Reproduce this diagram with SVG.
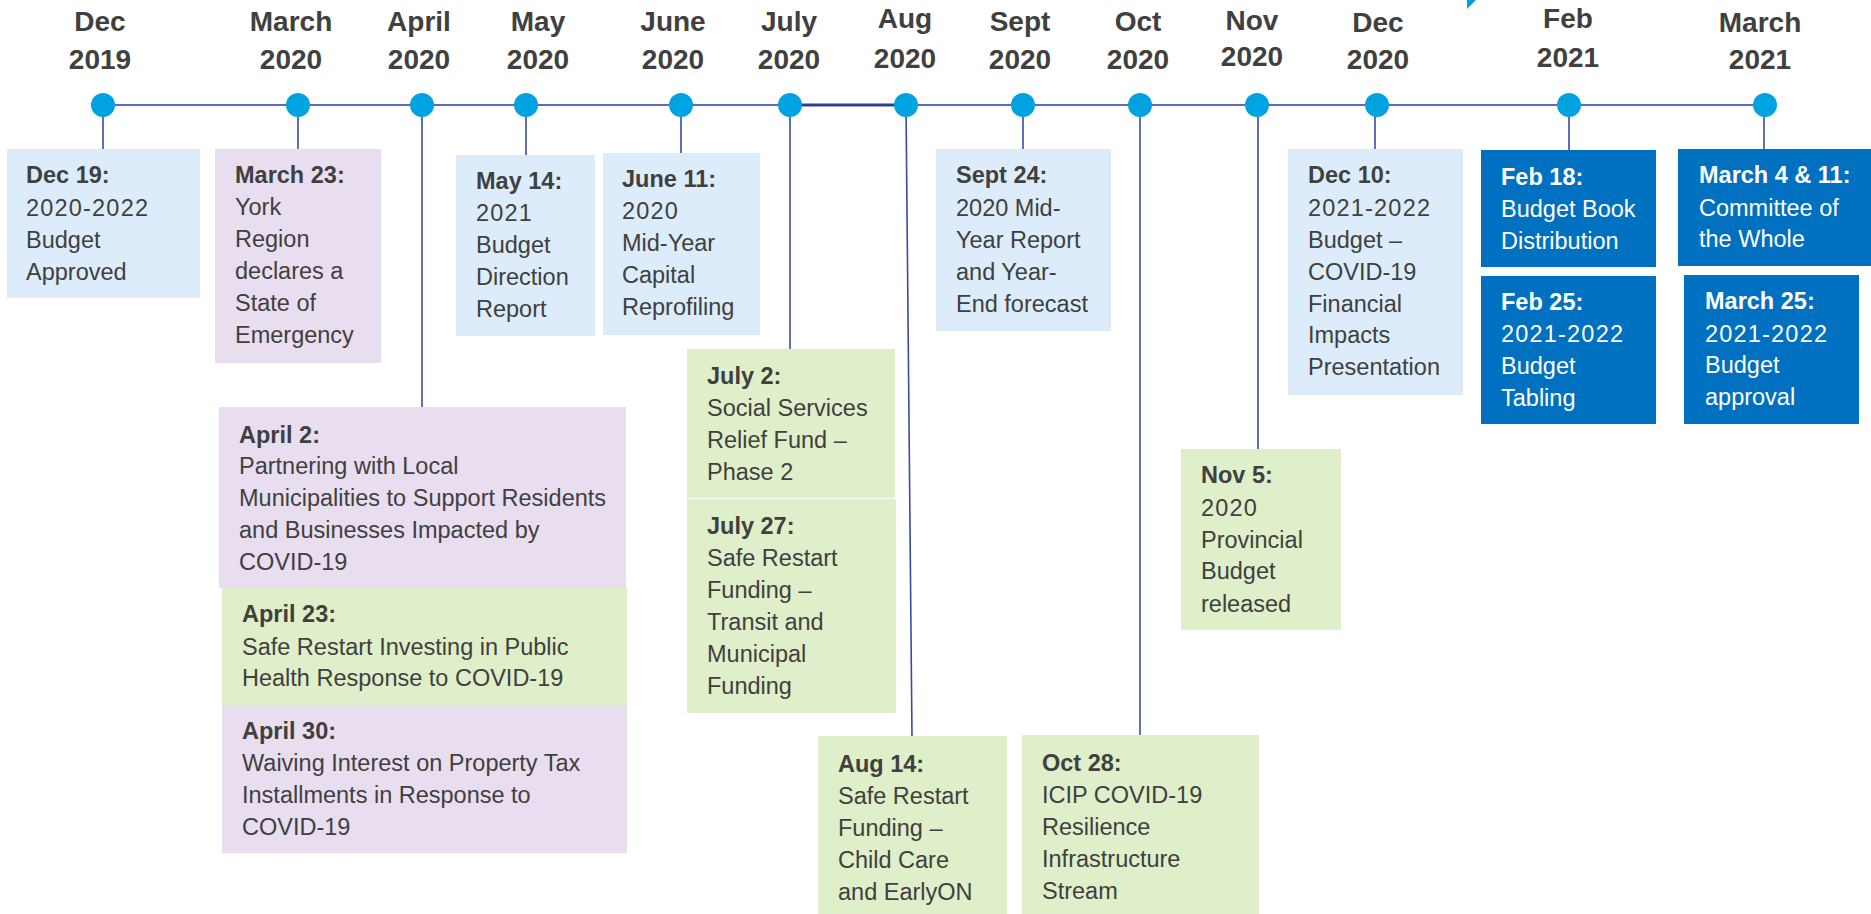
<svg xmlns="http://www.w3.org/2000/svg" width="1871" height="914" viewBox="0 0 1871 914">
<style>
.hd{font-family:"Liberation Sans",Arial,sans-serif;font-weight:bold;font-size:28px;fill:#404040;text-anchor:middle}
.tx{font-family:"Liberation Sans",Arial,sans-serif;font-size:23.5px;fill:#404040}
.tx .b{font-weight:bold}
.tx .n{letter-spacing:1.2px}
.wt{fill:#ffffff}
.lb{fill:#ddecfa}
.lv{fill:#e8def0}
.gr{fill:#dfefc9}
.db{fill:#0070c0}
.dot{fill:#00a3e0}
.con{stroke:#3b4aa3;stroke-width:1.6;fill:none}
</style>
<rect width="1871" height="914" fill="#ffffff"/>
<polygon points="1467,0 1476,0 1467,9" fill="#00a0e0"/>

<g id="headers">
<text class="hd" x="100" y="31">Dec<tspan x="100" y="69">2019</tspan></text>
<text class="hd" x="291" y="31">March<tspan x="291" y="69">2020</tspan></text>
<text class="hd" x="419" y="31">April<tspan x="419" y="69">2020</tspan></text>
<text class="hd" x="538" y="31">May<tspan x="538" y="69">2020</tspan></text>
<text class="hd" x="673" y="31">June<tspan x="673" y="69">2020</tspan></text>
<text class="hd" x="789" y="31">July<tspan x="789" y="69">2020</tspan></text>
<text class="hd" x="905" y="28">Aug<tspan x="905" y="68">2020</tspan></text>
<text class="hd" x="1020" y="31">Sept<tspan x="1020" y="69">2020</tspan></text>
<text class="hd" x="1138" y="31">Oct<tspan x="1138" y="69">2020</tspan></text>
<text class="hd" x="1252" y="30">Nov<tspan x="1252" y="66">2020</tspan></text>
<text class="hd" x="1378" y="32">Dec<tspan x="1378" y="69">2020</tspan></text>
<text class="hd" x="1568" y="28">Feb<tspan x="1568" y="67">2021</tspan></text>
<text class="hd" x="1760" y="32">March<tspan x="1760" y="69">2021</tspan></text>
</g>

<g id="connectors">
<line x1="103" y1="105" x2="1765" y2="105" stroke="#5b6bc0" stroke-width="2"/>
<line x1="790" y1="105" x2="906" y2="105" stroke="#2f3d92" stroke-width="3"/>
<line class="con" x1="103" y1="105" x2="103" y2="149"/>
<line class="con" x1="298" y1="105" x2="298" y2="149"/>
<line class="con" x1="422" y1="105" x2="422" y2="407"/>
<line class="con" x1="526" y1="105" x2="526" y2="155"/>
<line class="con" x1="681" y1="105" x2="681" y2="153"/>
<line class="con" x1="790" y1="105" x2="790" y2="349"/>
<line class="con" x1="906" y1="105" x2="912" y2="736"/>
<line class="con" x1="1023" y1="105" x2="1023" y2="149"/>
<line class="con" x1="1140" y1="105" x2="1140" y2="735"/>
<line class="con" x1="1258" y1="105" x2="1258" y2="449"/>
<line class="con" x1="1375" y1="105" x2="1375" y2="149"/>
<line class="con" x1="1569" y1="105" x2="1569" y2="150"/>
<line class="con" x1="1764" y1="105" x2="1764" y2="149"/>
</g>

<g id="dots">
<circle class="dot" cx="103" cy="105" r="12"/>
<circle class="dot" cx="298" cy="105" r="12"/>
<circle class="dot" cx="422" cy="105" r="12"/>
<circle class="dot" cx="526" cy="105" r="12"/>
<circle class="dot" cx="681" cy="105" r="12"/>
<circle class="dot" cx="790" cy="105" r="12"/>
<circle class="dot" cx="906" cy="105" r="12"/>
<circle class="dot" cx="1023" cy="105" r="12"/>
<circle class="dot" cx="1140" cy="105" r="12"/>
<circle class="dot" cx="1257" cy="105" r="12"/>
<circle class="dot" cx="1377" cy="105" r="12"/>
<circle class="dot" cx="1569" cy="105" r="12"/>
<circle class="dot" cx="1765" cy="105" r="12"/>
</g>

<g id="dec19">
<rect class="lb" x="7" y="149" width="193" height="149"/>
<text class="tx" x="26" y="183"><tspan class="b">Dec 19:</tspan><tspan class="n" x="26" y="216">2020-2022</tspan><tspan x="26" y="248">Budget</tspan><tspan x="26" y="280">Approved</tspan></text>
</g>
<g id="mar23">
<rect class="lv" x="215" y="149" width="166" height="214"/>
<text class="tx" x="235" y="183"><tspan class="b">March 23:</tspan><tspan x="235" y="215">York</tspan><tspan x="235" y="247">Region</tspan><tspan x="235" y="279">declares a</tspan><tspan x="235" y="311">State of</tspan><tspan x="235" y="343">Emergency</tspan></text>
</g>
<g id="may14">
<rect class="lb" x="456" y="155" width="139" height="181"/>
<text class="tx" x="476" y="189"><tspan class="b">May 14:</tspan><tspan class="n" x="476" y="221">2021</tspan><tspan x="476" y="253">Budget</tspan><tspan x="476" y="285">Direction</tspan><tspan x="476" y="317">Report</tspan></text>
</g>
<g id="jun11">
<rect class="lb" x="603" y="153" width="157" height="182"/>
<text class="tx" x="622" y="187"><tspan class="b">June 11:</tspan><tspan class="n" x="622" y="219">2020</tspan><tspan x="622" y="251">Mid-Year</tspan><tspan x="622" y="283">Capital</tspan><tspan x="622" y="315">Reprofiling</tspan></text>
</g>
<g id="sep24">
<rect class="lb" x="936" y="149" width="175" height="182"/>
<text class="tx" x="956" y="183"><tspan class="b">Sept 24:</tspan><tspan x="956" y="216">2020 Mid-</tspan><tspan x="956" y="248">Year Report</tspan><tspan x="956" y="280">and Year-</tspan><tspan x="956" y="312">End forecast</tspan></text>
</g>
<g id="dec10">
<rect class="lb" x="1288" y="149" width="175" height="246"/>
<text class="tx" x="1308" y="183"><tspan class="b">Dec 10:</tspan><tspan class="n" x="1308" y="216">2021-2022</tspan><tspan x="1308" y="248">Budget –</tspan><tspan x="1308" y="280">COVID-19</tspan><tspan x="1308" y="312">Financial</tspan><tspan x="1308" y="343">Impacts</tspan><tspan x="1308" y="375">Presentation</tspan></text>
</g>
<g id="feb18">
<rect class="db" x="1481" y="150" width="175" height="117"/>
<text class="tx wt" x="1501" y="185"><tspan class="b">Feb 18:</tspan><tspan x="1501" y="217">Budget Book</tspan><tspan x="1501" y="249">Distribution</tspan></text>
</g>
<g id="feb25">
<rect class="db" x="1481" y="276" width="175" height="148"/>
<text class="tx wt" x="1501" y="310"><tspan class="b">Feb 25:</tspan><tspan class="n" x="1501" y="342">2021-2022</tspan><tspan x="1501" y="374">Budget</tspan><tspan x="1501" y="406">Tabling</tspan></text>
</g>
<g id="mar4">
<rect class="db" x="1678" y="149" width="193" height="117"/>
<text class="tx wt" x="1699" y="183"><tspan class="b">March 4 &amp; 11:</tspan><tspan x="1699" y="216">Committee of</tspan><tspan x="1699" y="247">the Whole</tspan></text>
</g>
<g id="mar25">
<rect class="db" x="1684" y="275" width="175" height="149"/>
<text class="tx wt" x="1705" y="309"><tspan class="b">March 25:</tspan><tspan class="n" x="1705" y="342">2021-2022</tspan><tspan x="1705" y="373">Budget</tspan><tspan x="1705" y="405">approval</tspan></text>
</g>
<g id="apr2">
<rect class="lv" x="219" y="407" width="407" height="181"/>
<text class="tx" x="239" y="443"><tspan class="b">April 2:</tspan><tspan x="239" y="474">Partnering with Local</tspan><tspan x="239" y="506">Municipalities to Support Residents</tspan><tspan x="239" y="538">and Businesses Impacted by</tspan><tspan x="239" y="570">COVID-19</tspan></text>
</g>
<g id="apr23">
<rect class="gr" x="222" y="588" width="405" height="117"/>
<text class="tx" x="242" y="622"><tspan class="b">April 23:</tspan><tspan x="242" y="655">Safe Restart Investing in Public</tspan><tspan x="242" y="686">Health Response to COVID-19</tspan></text>
</g>
<g id="apr30">
<rect class="lv" x="222" y="705" width="405" height="148"/>
<text class="tx" x="242" y="739"><tspan class="b">April 30:</tspan><tspan x="242" y="771">Waiving Interest on Property Tax</tspan><tspan x="242" y="803">Installments in Response to</tspan><tspan x="242" y="835">COVID-19</tspan></text>
</g>
<g id="jul2">
<rect class="gr" x="687" y="349" width="208" height="149"/>
<text class="tx" x="707" y="384"><tspan class="b">July 2:</tspan><tspan x="707" y="416">Social Services</tspan><tspan x="707" y="448">Relief Fund –</tspan><tspan x="707" y="480">Phase 2</tspan></text>
</g>
<g id="jul27">
<rect class="gr" x="687" y="499" width="209" height="214"/>
<text class="tx" x="707" y="534"><tspan class="b">July 27:</tspan><tspan x="707" y="566">Safe Restart</tspan><tspan x="707" y="598">Funding –</tspan><tspan x="707" y="630">Transit and</tspan><tspan x="707" y="662">Municipal</tspan><tspan x="707" y="694">Funding</tspan></text>
</g>
<g id="aug14">
<rect class="gr" x="818" y="736" width="189" height="178"/>
<text class="tx" x="838" y="772"><tspan class="b">Aug 14:</tspan><tspan x="838" y="804">Safe Restart</tspan><tspan x="838" y="836">Funding –</tspan><tspan x="838" y="868">Child Care</tspan><tspan x="838" y="900">and EarlyON</tspan></text>
</g>
<g id="oct28">
<rect class="gr" x="1022" y="735" width="237" height="179"/>
<text class="tx" x="1042" y="771"><tspan class="b">Oct 28:</tspan><tspan x="1042" y="803">ICIP COVID-19</tspan><tspan x="1042" y="835">Resilience</tspan><tspan x="1042" y="867">Infrastructure</tspan><tspan x="1042" y="899">Stream</tspan></text>
</g>
<g id="nov5">
<rect class="gr" x="1181" y="449" width="160" height="181"/>
<text class="tx" x="1201" y="483"><tspan class="b">Nov 5:</tspan><tspan class="n" x="1201" y="516">2020</tspan><tspan x="1201" y="548">Provincial</tspan><tspan x="1201" y="579">Budget</tspan><tspan x="1201" y="612">released</tspan></text>
</g>
</svg>
